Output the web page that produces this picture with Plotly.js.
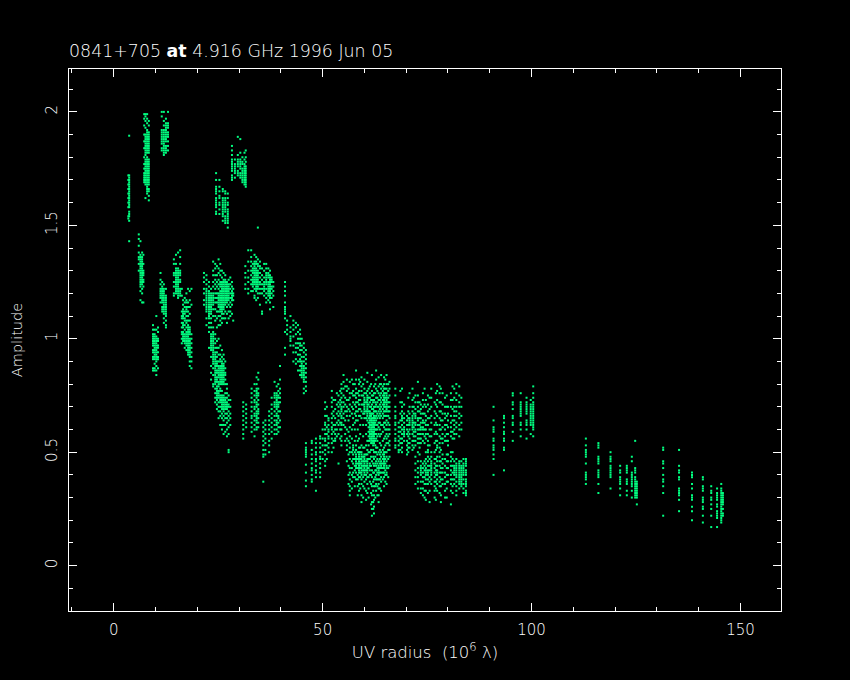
<!DOCTYPE html>
<html><head><meta charset="utf-8">
<script src="https://cdn.plot.ly/plotly-3.0.1.min.js"></script>
<style>html,body{margin:0;padding:0;background:#000}</style></head>
<body><div id="plot" style="width:850px;height:680px"></div>
<script>
const titleText = '0841+705 <b>at</b> 4.916 GHz 1996 Jun 05';
const xTitle = 'UV radius&nbsp;&nbsp;(10<sup>6</sup> λ)';
const yTitle = 'Amplitude';

// Each uv entry is one visibility column, each amp list the amplitudes in it.
const uvHigh = [3.5,3.7,7.3,7.6,8,8.4,11.5,12,12.5,13,24.5,25.3,26.1,26.7,27.3,28.3,29,29.7,30.3,30.8,31.3,31.6];
const ampHigh = [
[1.72,1.7,1.68,1.66,1.64,1.62,1.6,1.58,1.54,1.53],
[1.895,1.72,1.71,1.7,1.69,1.68,1.67,1.66,1.65,1.64,1.63,1.62,1.61,1.6,1.59,1.58,1.56,1.55,1.54,1.52,1.43],
[1.99,1.97,1.94,1.9,1.87,1.84,1.8,1.77,1.75,1.73,1.72,1.71,1.7,1.69],
[1.99,1.98,1.96,1.93,1.9,1.89,1.88,1.87,1.86,1.85,1.84,1.83,1.82,1.81,1.79,1.78,1.77,1.76,1.75,1.74,1.73,1.72,1.71,1.7,1.69,1.68,1.62],
[1.99,1.97,1.95,1.92,1.91,1.9,1.89,1.88,1.87,1.86,1.85,1.84,1.83,1.82,1.8,1.79,1.78,1.77,1.76,1.75,1.74,1.73,1.72,1.71,1.7,1.69,1.68,1.67,1.66,1.65,1.64],
[1.96,1.94,1.91,1.9,1.89,1.88,1.87,1.86,1.85,1.84,1.83,1.82,1.79,1.78,1.77,1.76,1.75,1.74,1.73,1.72,1.71,1.7,1.69,1.68,1.66,1.65,1.63,1.61],
[2,1.98,1.92,1.91,1.9,1.89,1.88,1.87,1.86,1.84,1.83],
[2,1.96,1.94,1.92,1.91,1.9,1.89,1.88,1.87,1.86,1.85,1.84,1.83,1.82,1.81],
[1.97,1.95,1.94,1.93,1.92,1.91,1.9,1.89,1.88,1.87,1.85,1.84,1.83,1.82],
[2,1.95,1.94,1.93,1.91,1.9,1.89,1.87,1.85,1.83],
[1.73,1.7,1.67,1.66,1.65,1.64,1.62,1.61,1.6,1.59,1.58,1.56,1.55],
[1.7,1.67,1.65,1.63,1.62,1.6,1.59,1.57,1.55],
[1.66,1.65,1.62,1.61,1.6,1.59,1.58,1.57,1.56,1.55,1.54,1.52],
[1.65,1.64,1.62,1.61,1.6,1.59,1.58,1.57,1.56,1.54,1.53,1.52,1.51],
[1.64,1.62,1.6,1.59,1.57,1.56,1.55,1.54,1.53,1.52,1.51,1.49],
[1.85,1.83,1.81,1.79,1.78,1.77,1.76,1.75,1.74,1.72,1.71,1.7],
[1.79,1.77,1.76,1.75,1.74,1.73,1.71],
[1.89,1.81,1.79,1.78,1.77,1.76,1.74,1.73,1.72],
[1.88,1.82,1.79,1.78,1.77,1.76,1.75,1.73,1.72,1.71],
[1.8,1.78,1.77,1.75,1.74,1.73,1.72,1.71,1.7,1.69],
[1.82,1.79,1.77,1.76,1.75,1.74,1.73,1.72,1.71,1.7,1.69,1.68],
[1.83,1.8,1.78,1.76,1.75,1.74,1.73,1.72,1.71,1.7,1.69,1.68,1.67]
];

const uvMid = [6,6.4,6.8,7.1,9.4,9.8,10.2,10.6,11.2,11.6,12,12.5,14.4,14.9,15.4,15.9,16.3,16.6,17,17.4,17.8,18.2,18.6];
const ampMid = [
[1.46,1.44,1.41,1.38,1.36,1.35,1.33,1.3],
[1.43,1.37,1.36,1.35,1.34,1.33,1.32,1.31,1.3,1.29,1.28,1.27,1.26,1.25,1.24,1.23,1.21,1.17],
[1.38,1.36,1.35,1.34,1.33,1.32,1.31,1.3,1.29,1.28,1.27,1.26,1.25,1.24,1.22,1.2,1.16],
[1.37,1.33,1.3,1.29,1.28,1.26,1.25,1.23,1.16],
[1.06,1.04,1.02,1.01,1,.99,.98,.97,.95,.94,.92,.91,.87,.86],
[1.04,1.02,1.01,1,.99,.98,.97,.96,.95,.94,.93,.92,.91,.89,.87,.86],
[1.1,1.04,1.01,1,.99,.98,.97,.96,.95,.94,.93,.92,.91,.9,.88,.86,.84],
[1.05,1.03,1,.99,.97,.96,.94,.92,.91,.87],
[1.29,1.26,1.24,1.22,1.21,1.2,1.19,1.18,1.16],
[1.25,1.23,1.22,1.21,1.2,1.19,1.18,1.17,1.16,1.14,1.13,1.12],
[1.24,1.22,1.21,1.2,1.19,1.18,1.17,1.16,1.15,1.14,1.13,1.12,1.11,1.09,1.07],
[1.22,1.19,1.18,1.17,1.16,1.15,1.14,1.13,1.12,1.11,1.1,1.08,1.06,1.05],
[1.35,1.33,1.29,1.28,1.25,1.23,1.2,1.19],
[1.37,1.33,1.31,1.3,1.29,1.28,1.27,1.26,1.25,1.24,1.23,1.22,1.21,1.2],
[1.38,1.31,1.3,1.29,1.28,1.27,1.26,1.25,1.24,1.23,1.22,1.21,1.2,1.19,1.18],
[1.39,1.36,1.33,1.3,1.29,1.28,1.26,1.25,1.22,1.21,1.2,1.19],
[1.22,1.19,1.12,1.1,1.09,1.07,1.05,1.03,1.02,1,.98],
[1.17,1.15,1.13,1.12,1.11,1.1,1.09,1.07,1.06,1.05,1.03,1.02,1.01,1,.99],
[1.18,1.16,1.14,1.12,1.11,1.09,1.08,1.06,1.04,1.02,1.01,1,.99,.98,.96],
[1.2,1.17,1.16,1.14,1.13,1.12,1.1,1.08,1.07,1.05,1.03,1.02,1.01,1,.99,.98,.97,.95],
[1.22,1.16,1.14,1.12,1.1,1.08,1.06,1.05,1.04,1.03,1.02,1.01,1,.99,.98,.97,.96,.95,.94,.93],
[1.21,1.17,1.14,1.11,1.08,1.05,1.04,1.03,1.02,1,.99,.98,.97,.96,.95,.94,.93,.92,.9,.88],
[1.22,1.15,1.02,1,.98,.96,.94,.92,.9,.87]
];

const uvCore = [21.6,22.2,22.8,23.3,23.8,24.3,24.7,25.1,25.5,25.9,26.3,26.7,27.1,27.5,27.9,28.3,28.6];
const ampCore = [
[1.29,1.27,1.25,1.22,1.2,1.17,1.15],
[1.28,1.26,1.24,1.22,1.21,1.2,1.19,1.18,1.17,1.16,1.15,1.14,1.13,1.12,1.09,1.06],
[1.25,1.23,1.21,1.2,1.19,1.18,1.17,1.16,1.15,1.14,1.13,1.12,1.11,1.1,1.09,1.07,1.05,1.03,.96],
[1.22,1.2,1.19,1.18,1.17,1.16,1.15,1.14,1.13,1.12,1.11,1.09,1.07,1.05,1.02,1.01,1,.99,.98,.97,.96,.95,.92,.88,.85,.82],
[1.34,1.3,1.28,1.25,1.23,1.2,1.19,1.18,1.17,1.16,1.15,1.13,1.1,1.05,1.03,1.02,1.01,1,.99,.98,.97,.96,.95,.94,.93,.92,.91,.9,.89,.87,.84,.8,.79],
[1.33,1.31,1.28,1.26,1.24,1.22,1.2,1.18,1.16,1.13,1.1,1.08,1.02,1,.98,.96,.94,.93,.92,.91,.9,.89,.88,.87,.86,.85,.84,.83,.82,.81,.8,.78,.76,.74,.72],
[1.32,1.28,1.25,1.23,1.2,1.18,1.16,1.12,1.09,1.05,.99,.96,.94,.92,.9,.89,.88,.86,.85,.83,.82,.81,.79,.78,.77,.76,.75,.74,.73,.71,.69],
[1.35,1.31,1.29,1.26,1.24,1.22,1.2,1.19,1.18,1.17,1.16,1.15,1.14,1.12,1.1,1.06,1,.96,.93,.9,.88,.87,.86,.85,.84,.83,.81,.8,.79,.77,.76,.75,.74,.72,.7,.68,.65],
[1.33,1.3,1.28,1.25,1.24,1.23,1.21,1.2,1.19,1.18,1.17,1.16,1.15,1.14,1.13,1.12,1.1,1.08,1.06,.97,.93,.91,.9,.88,.87,.86,.85,.84,.83,.82,.81,.8,.78,.77,.75,.74,.73,.72,.7,.68,.66,.62],
[1.3,1.27,1.25,1.24,1.23,1.22,1.21,1.2,1.19,1.18,1.17,1.16,1.15,1.14,1.13,1.12,1.11,1.09,1.07,.95,.92,.9,.89,.88,.87,.86,.85,.84,.83,.82,.81,.8,.77,.75,.74,.73,.72,.71,.7,.69,.67,.65,.62,.6],
[1.29,1.26,1.25,1.24,1.23,1.22,1.21,1.2,1.19,1.18,1.17,1.16,1.15,1.14,1.13,1.11,1.09,.93,.91,.89,.88,.87,.86,.85,.84,.83,.82,.81,.8,.75,.74,.73,.72,.71,.7,.69,.68,.66,.64,.62,.58],
[1.28,1.26,1.25,1.24,1.23,1.22,1.21,1.2,1.19,1.18,1.17,1.16,1.15,1.12,1.09,.9,.87,.85,.84,.82,.8,.76,.74,.73,.72,.71,.7,.69,.67,.65,.62,.59],
[1.25,1.24,1.23,1.22,1.21,1.2,1.19,1.18,1.17,1.16,1.14,1.11,1.07,.8,.78,.76,.74,.72,.71,.7,.69,.67,.65,.63,.6,.57],
[1.26,1.24,1.23,1.22,1.21,1.2,1.19,1.18,1.17,1.15,1.12,1.09,.75,.73,.71,.7,.68,.66,.64,.61,.58,.51,.5],
[1.27,1.24,1.22,1.2,1.18,1.16,1.14,1.12,1.1,.73,.7,.67,.65,.62],
[1.25,1.23,1.21,1.2,1.19,1.18,1.17,1.15,1.11],
[1.22,1.2,1.19,1.17,1.08]
];

const uvUpperRight = [31.5,32.2,32.9,33.3,33.7,34.1,34.5,35,35.5,36,36.5,37,37.4,37.8,38.2,41,41.5,42.3,43,43.6,44.1,44.6,45,45.5,46];
const ampUpperRight = [
[1.32,1.29,1.27,1.24,1.22],
[1.39,1.34,1.3,1.27,1.25,1.22,1.2],
[1.39,1.36,1.34,1.32,1.3,1.28,1.26,1.24,1.21],
[1.33,1.31,1.3,1.29,1.27,1.26,1.25,1.24,1.23,1.21],
[1.37,1.34,1.33,1.32,1.31,1.3,1.29,1.28,1.27,1.26,1.25,1.24,1.22,1.19,1.18],
[1.36,1.34,1.33,1.31,1.3,1.29,1.28,1.27,1.26,1.25,1.24,1.23,1.22,1.21,1.17],
[1.49,1.35,1.33,1.32,1.3,1.29,1.28,1.27,1.26,1.25,1.24,1.23,1.22,1.2,1.18],
[1.34,1.32,1.31,1.29,1.27,1.25,1.24,1.22,1.2,1.15],
[1.31,1.28,1.26,1.24,1.22,1.2,1.12,1.11],
[1.33,1.3,1.27,1.25,1.24,1.23,1.22,1.21,1.19],
[1.33,1.31,1.29,1.28,1.27,1.26,1.25,1.24,1.22,1.2,1.18,1.16],
[1.31,1.29,1.28,1.27,1.25,1.24,1.23,1.22,1.21,1.2,1.19,1.17],
[1.3,1.28,1.27,1.26,1.25,1.24,1.23,1.22,1.21,1.2,1.19,1.18,1.16,1.13],
[1.27,1.26,1.25,1.23,1.22,1.2,1.18],
[1.25,1.23,1.21,1.19,1.14],
[1.25,1.23,1.21,1.19,1.16,1.14,1.13,1.12,1.11,1.09,1.03,.96,.93],
[1.08,1.06,1.04,1.02],
[1.1,1.05,1.03,1.01,1,.99,.97],
[1.08,1.06,1.04,1.01,.97,.94,.9],
[1.07,1.05,1.02,.98,.96,.94,.91,.89],
[1.06,1.03,1,.98,.96,.93,.9,.86],
[1.04,1.02,1,.98,.97,.95,.93,.91,.9,.88,.86,.84],
[1,.97,.95,.92,.9,.89,.88,.87,.86,.85,.84,.83],
[.98,.96,.94,.92,.9,.88,.87,.86,.85,.84,.83,.82,.81,.78,.76],
[.95,.93,.91,.89,.87,.85,.83,.81,.79,.77]
];

const uvLowLeft = [31,31.7,33,33.7,34.2,34.6,35.8,36.3,37.2,37.8,38.5,39,39.4,39.8];
const ampLowLeft = [
[.72,.7,.68,.66,.64,.62,.6,.58,.56],
[.71,.69,.67,.65,.63,.61],
[.78,.76,.74,.72,.7,.68,.66,.65,.63,.61,.59],
[.8,.77,.75,.73,.72,.7,.69,.67,.66,.64,.62,.6,.57],
[.83,.8,.78,.77,.76,.75,.74,.72,.71,.7,.68,.67,.66,.65,.64,.63,.61,.6],
[.85,.82,.78,.76,.75,.73,.71,.69,.68,.67,.65,.63,.61],
[.63,.61,.59,.57,.55,.53,.51,.49,.48,.37],
[.64,.62,.6,.58,.56,.54,.51,.49],
[.68,.66,.64,.62,.6,.58,.55,.53,.5],
[.74,.71,.69,.67,.65,.63,.61,.59,.56],
[.81,.76,.75,.74,.72,.71,.7,.68,.66,.64,.62,.6,.58],
[.79,.76,.75,.74,.73,.72,.71,.7,.69,.67,.66,.64,.63,.62,.6,.58],
[.8,.77,.75,.74,.72,.71,.7,.68,.66,.65,.63,.61,.59],
[.88,.82,.78,.76,.74,.72,.68,.64,.61]
];

const uvCloud = [46,47.4,48.4,49.4,50.6,51.4,52.2,53,53.8,54.5,55,55.8,56.5,57.3,58,58.7,59.3,60,60.7,61.3,61.8,62.3,62.8,63.4,64,64.7,65.3,66,67.4,68.2,69,69.5,70.2,70.8,71.5,72.2,72.8,73.5,74,74.7,75.2,76,76.8,77.4,78,78.7,79.3,80,80.7,81.5,82,82.7,83.2,83.7,84.3];
const ampCloud = [
[.54,.52,.51,.5,.49,.48,.445,.41,.375,.35],
[.55,.54,.51,.49,.47,.45,.43,.42,.4,.38,.37],
[.56,.54,.52,.5,.49,.47,.46,.44,.42,.41,.39,.33],
[.57,.56,.54,.52,.5,.48,.47,.45,.43,.41,.39],
[.72,.69,.66,.63,.62,.6,.58,.56,.55,.53,.51,.49,.46,.44],
[.65,.64,.62,.6,.59,.57,.56,.54,.52,.5],
[.77,.74,.72,.7,.67,.65,.63,.61,.6,.58,.56,.54,.5],
[.73,.69,.65,.62,.6,.58,.56,.55],
[.75,.72,.7,.68,.66,.64,.62,.58,.45],
[.8,.78,.76,.74,.72,.7,.69,.68,.66,.65,.63,.62,.6,.57,.55,.53],
[.84,.81,.78,.75,.72,.7,.67,.65,.62],
[.82,.79,.77,.73,.7,.68,.66,.6,.56,.53,.51,.46],
[.81,.76,.74,.71,.68,.66,.61,.57,.54,.52,.5,.47,.43,.41,.38,.35,.33,.31],
[.8,.77,.75,.72,.69,.65,.62,.53,.52,.51,.49,.47,.45,.41,.39],
[.86,.82,.78,.76,.74,.72,.7,.68,.66,.64,.57,.53,.51,.49,.48,.47,.46,.45,.44,.43,.41,.38],
[.82,.8,.77,.75,.73,.71,.69,.66,.56,.52,.5,.49,.48,.47,.46,.45,.44,.43,.42,.41,.39,.36,.33],
[.83,.79,.77,.75,.71,.68,.65,.53,.5,.49,.48,.47,.46,.45,.44,.43,.42,.41,.4,.38,.36,.31,.28],
[.82,.78,.76,.74,.73,.72,.71,.7,.69,.68,.67,.65,.52,.49,.48,.47,.46,.45,.44,.43,.42,.41,.4,.37,.34],
[.85,.81,.77,.75,.74,.73,.72,.71,.7,.69,.68,.67,.66,.64,.55,.51,.49,.47,.46,.45,.44,.43,.42,.41,.39,.36,.32],
[.79,.76,.74,.72,.7,.68,.67,.66,.65,.64,.63,.62,.61,.6,.59,.58,.57,.56,.55,.5,.47,.45,.44,.42,.4,.37],
[.84,.77,.75,.73,.71,.69,.67,.65,.64,.63,.62,.61,.6,.59,.58,.57,.56,.55,.54,.46,.42,.39,.35,.31,.28,.25,.22],
[.79,.76,.73,.7,.68,.66,.65,.64,.63,.62,.61,.6,.59,.58,.57,.56,.55,.54,.5,.47,.44,.41,.38,.35,.31,.29,.26,.23],
[.86,.82,.78,.74,.71,.68,.66,.64,.62,.6,.58,.56,.52,.5,.46,.44,.42,.4,.38,.36,.33],
[.83,.79,.76,.73,.7,.68,.66,.63,.61,.58,.5,.46,.44,.43,.42,.41,.4,.38,.36,.34,.31,.28],
[.84,.8,.78,.76,.74,.72,.7,.68,.66,.62,.58,.53,.5,.48,.46,.45,.44,.43,.41,.39,.37,.33],
[.83,.8,.78,.76,.75,.74,.73,.72,.71,.7,.68,.66,.63,.61,.56,.52,.5,.49,.48,.47,.46,.45,.44,.43,.41,.39,.35],
[.84,.8,.78,.76,.75,.74,.73,.72,.71,.7,.69,.68,.66,.64,.62,.6,.58,.56,.54,.5,.48,.46,.44,.43,.41,.4,.36],
[.81,.78,.75,.72,.7,.68,.65,.62,.6,.58,.55,.53,.51,.48,.44],
[.78,.75,.7,.68,.66,.65,.63,.62,.6,.58,.56,.55,.53,.52],
[.63,.61,.59,.57,.55,.53,.51,.5],
[.78,.72,.7,.68,.66,.65,.64,.62,.6,.58,.56,.54,.52,.5],
[.71,.67,.65,.63,.61,.6,.59,.58,.57,.55],
[.66,.64,.62,.6,.58,.55,.53,.51,.49],
[.76,.7,.67,.65,.64,.63,.62,.6,.58,.56,.54,.52],
[.78,.73,.7,.68,.66,.65,.64,.63,.62,.61,.6,.58,.55,.53,.51],
[.75,.72,.69,.67,.66,.65,.63,.62,.6,.59,.57,.55,.53,.48,.45,.42,.39,.36],
[.81,.75,.72,.7,.68,.65,.64,.62,.6,.58,.56,.54,.5,.46,.43,.41,.39,.37,.34],
[.71,.69,.67,.65,.63,.61,.6,.58,.56,.54,.46,.44,.43,.42,.41,.4,.37,.34,.32],
[.76,.73,.7,.67,.64,.63,.61,.6,.58,.55,.45,.43,.41,.39,.37,.34,.31],
[.73,.7,.66,.64,.62,.6,.58,.56,.5,.47,.45,.43,.42,.41,.4,.38,.36,.33,.29],
[.75,.71,.68,.65,.62,.58,.55,.53,.51,.5,.48,.46,.44,.42,.41,.4,.38,.36,.32],
[.78,.74,.7,.66,.63,.6,.57,.5,.48,.46,.45,.44,.43,.42,.41,.4,.38,.36],
[.72,.68,.65,.62,.58,.54,.5,.47,.45,.43,.41,.39,.37,.35,.33,.3],
[.8,.77,.73,.7,.66,.62,.58,.55,.53,.52,.48,.46,.44,.42,.41,.4,.38,.36,.33],
[.79,.76,.72,.68,.65,.62,.6,.57,.54,.52,.5,.48,.46,.44,.41,.39,.37,.35,.32],
[.76,.71,.67,.64,.61,.58,.56,.54,.49,.47,.45,.43,.41,.38,.36],
[.74,.7,.67,.65,.62,.6,.57,.55,.47,.44,.41,.39,.36,.33,.3],
[.7,.67,.64,.61,.58,.55,.53,.49,.46,.43,.4,.37],
[.76,.73,.7,.66,.63,.61,.59,.57,.5,.48,.46,.44,.42,.4,.38,.36,.33,.27],
[.78,.74,.7,.68,.66,.64,.62,.6,.58,.56,.46,.44,.43,.42,.41,.4,.38,.36],
[.8,.76,.73,.7,.68,.66,.63,.61,.58,.47,.45,.44,.43,.42,.41,.4,.39,.37,.35,.33,.31],
[.79,.75,.72,.7,.67,.65,.62,.6,.57,.46,.45,.44,.43,.42,.41,.4,.39,.38,.37,.36,.34],
[.74,.7,.66,.63,.6,.46,.44,.43,.42,.41,.4,.39,.38,.37,.36,.35],
[.47,.45,.44,.43,.42,.41,.4,.38,.36,.34,.32],
[.47,.46,.45,.44,.42,.41,.4,.38,.37,.36,.35,.33,.32,.31]
];

const uvCloudFill = [50,51,52.6,53.4,54.2,55.4,56.2,57,57.7,58.4,59,59.7,60.4,61,61.6,62.1,62.6,63.1,63.7,64.4,65,65.7,68.6,70.5,71.8,73.2,74.4,75.6,77.1,78.3,79.7,81.1];
const ampCloudFill = [
[.6,.56,.53,.5,.47],
[.7,.66,.61,.58,.53,.47],
[.73,.68,.66,.62,.59,.55,.52],
[.76,.71,.67,.63,.6,.57],
[.77,.73,.71,.67,.63,.6,.56],
[.79,.74,.71,.68,.64,.61,.58,.55],
[.78,.73,.69,.64,.59,.55,.49,.44,.4,.36],
[.82,.76,.7,.67,.6,.56,.5,.46,.43,.4,.37,.34],
[.8,.75,.71,.67,.63,.6,.55,.5,.47,.44,.42,.39,.35],
[.76,.72,.68,.64,.6,.55,.5,.47,.45,.43,.4,.38,.35,.31],
[.81,.73,.69,.66,.62,.58,.52,.5,.47,.45,.43,.41,.39,.34],
[.8,.75,.71,.67,.62,.57,.52,.48,.46,.44,.42,.39,.35,.3],
[.76,.72,.68,.65,.62,.58,.53,.49,.46,.44,.42,.4,.38,.33,.29],
[.78,.74,.71,.68,.65,.63,.61,.59,.57,.55,.53,.5,.47,.43,.39,.34,.3],
[.8,.73,.7,.67,.66,.64,.62,.6,.58,.56,.54,.51,.48,.44,.4,.36,.32,.27],
[.75,.72,.69,.67,.65,.63,.61,.59,.57,.55,.53,.51,.48,.45,.41,.37,.33,.28,.25],
[.8,.76,.72,.7,.68,.65,.63,.6,.58,.55,.53,.5,.48,.45,.42,.39,.35,.3],
[.77,.74,.72,.7,.67,.65,.62,.6,.57,.55,.52,.49,.47,.45,.43,.41,.38,.35,.31],
[.8,.75,.73,.71,.69,.67,.65,.63,.6,.57,.54,.51,.49,.47,.45,.43,.41,.38,.34],
[.79,.77,.75,.73,.71,.69,.67,.65,.62,.59,.55,.51,.49,.47,.45,.43,.41,.38],
[.82,.78,.76,.74,.72,.7,.68,.66,.63,.6,.57,.53,.5,.47,.45,.42,.4,.37],
[.8,.77,.74,.72,.7,.68,.66,.63,.6,.57,.54,.51,.47,.43,.39],
[.77,.72,.67,.64,.61,.59,.56,.54,.51],
[.74,.68,.65,.62,.59,.57,.54,.52,.5],
[.74,.7,.67,.63,.61,.59,.57,.55,.52],
[.72,.68,.65,.62,.6,.58,.56,.54,.52,.49],
[.78,.71,.67,.63,.6,.57,.54,.46,.44,.42,.39,.36,.33,.3],
[.74,.69,.65,.6,.57,.53,.47,.44,.42,.39,.37,.33,.28],
[.76,.71,.67,.63,.59,.55,.51,.47,.44,.42,.4,.37,.34,.29],
[.78,.72,.68,.64,.6,.56,.51,.46,.43,.41,.38,.35,.31,.28],
[.75,.7,.66,.62,.58,.55,.49,.46,.43,.4,.37,.34,.3],
[.79,.73,.69,.64,.59,.56,.5,.47,.44,.41,.38,.35,.32]
];

const uvFar = [90.9,93.4,95.5,97.4,98.8,99.8,100.4,113,116,118.9,121.2,122.8,124,124.8,125.2,131.5,135.3,138.4,141,143,144.4,145.4,145.8];
const ampFar = [
[.7,.64,.61,.6,.59,.56,.55,.53,.52,.51,.49,.47,.4],
[.66,.65,.63,.61,.59,.58,.56,.55,.52,.51,.42],
[.76,.75,.72,.71,.69,.66,.65,.63,.62,.59,.55],
[.76,.72,.71,.7,.69,.68,.67,.66,.63,.62,.6,.57],
[.74,.72,.71,.7,.69,.68,.67,.64,.63,.62,.6,.56],
[.73,.71,.7,.69,.68,.67,.66,.65,.64,.63,.62,.58],
[.79,.76,.74,.72,.71,.7,.69,.68,.67,.66,.65,.64,.63,.62,.61,.6,.57],
[.56,.53,.51,.5,.49,.48,.45,.41,.4,.39,.38,.36],
[.54,.53,.52,.48,.47,.46,.45,.42,.41,.4,.39,.36,.32],
[.5,.48,.47,.46,.44,.43,.42,.41,.4,.39,.34],
[.44,.42,.41,.39,.38,.37,.36,.34,.31],
[.44,.43,.42,.41,.38,.37,.36,.33,.31],
[.48,.46,.41,.4,.39,.38,.37,.36,.35,.33,.3],
[.55,.43,.42,.41,.39,.38,.37,.36,.35,.34,.33,.32,.31,.3],
[.37,.36,.35,.34,.33,.32,.31,.3,.27],
[.52,.51,.46,.45,.43,.4,.38,.37,.35,.32,.22],
[.51,.44,.42,.41,.39,.38,.34,.33,.32,.31,.29,.24],
[.41,.4,.39,.36,.34,.31,.3,.29,.26,.24,.2],
[.39,.38,.35,.34,.33,.3,.29,.28,.26,.25,.22,.19],
[.35,.33,.32,.3,.29,.27,.25,.22,.17],
[.34,.32,.31,.3,.29,.27,.26,.24,.23,.22,.21,.17],
[.36,.34,.33,.32,.31,.3,.29,.28,.27,.26,.25,.24,.23,.22,.21,.2,.19],
[.32,.31,.3,.29,.28,.27,.25,.23,.22]
];

const uvCols = [uvHigh,uvMid,uvCore,uvUpperRight,uvLowLeft,uvCloud,uvCloudFill,uvFar].flat();
const ampCols = [ampHigh,ampMid,ampCore,ampUpperRight,ampLowLeft,ampCloud,ampCloudFill,ampFar].flat();
const xs = [], ys = [];
uvCols.forEach((u,i)=>ampCols[i].forEach(a=>{xs.push(u);ys.push(a);}));

const white = '#ffffff';
const fontFamily = '"DejaVu Sans", sans-serif';
const tickFont = {family:fontFamily, size:15, color:white, weight:200};
const axisCommon = {showgrid:false, zeroline:false, showline:true, linecolor:white, linewidth:1, mirror:'ticks',
  ticks:'inside', ticklen:8, tickwidth:1, tickcolor:white, tickfont:tickFont};

Plotly.newPlot('plot',[{type:'scatter',mode:'markers',x:xs,y:ys,
  marker:{symbol:'square',size:2,color:'#00ff80',line:{width:0}},hoverinfo:'skip'}],{
  width:850,height:680,showlegend:false,paper_bgcolor:'#000',plot_bgcolor:'#000',
  margin:{l:68.5,r:69,t:69,b:68.5,pad:0},
  title:{text:titleText,font:{family:fontFamily,size:17.4,color:white,weight:200},xref:'paper',x:0,xanchor:'left',yref:'container',y:0.925,yanchor:'middle'},
  xaxis:Object.assign({},axisCommon,{range:[-10.7,159.7],tick0:0,dtick:50,ticklabelstandoff:5,
    minor:{tick0:0,dtick:10,ticks:'inside',ticklen:4,tickwidth:1,tickcolor:white},
    title:{text:xTitle,font:{family:fontFamily,size:16.5,color:white,weight:200},standoff:8}}),
  yaxis:Object.assign({},axisCommon,{range:[-0.2,2.189],tick0:0,dtick:0.5,tickangle:-90,tickformat:'~g',ticklabelstandoff:5,
    minor:{tick0:0,dtick:0.1,ticks:'inside',ticklen:4,tickwidth:1,tickcolor:white},
    title:{text:yTitle,font:{family:fontFamily,size:14.5,color:white,weight:200},standoff:16}})
},{displayModeBar:false,staticPlot:true});
</script></body></html>
